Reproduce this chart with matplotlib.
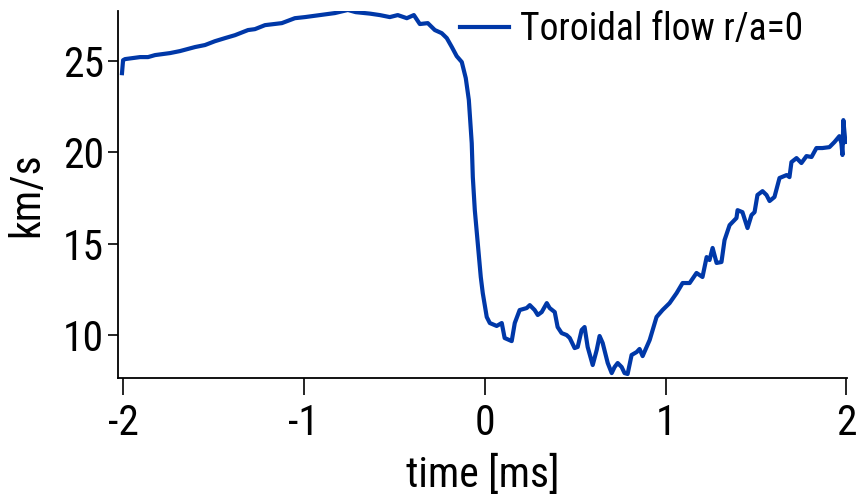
import matplotlib
matplotlib.use("Agg")
import matplotlib.pyplot as plt

# time [ms] and toroidal flow [km/s]
t_ms = [-2.006, -2.000, -1.989, -1.906, -1.862, -1.823, -1.740, -1.685, -1.602, -1.547,
        -1.492, -1.436, -1.381, -1.309, -1.271, -1.215, -1.122, -1.050, -0.994, -0.912,
        -0.829, -0.757, -0.713, -0.635, -0.580, -0.525, -0.481, -0.431, -0.392, -0.359,
        -0.315, -0.276, -0.238, -0.210, -0.182, -0.155, -0.127, -0.105, -0.088, -0.072,
        -0.066, -0.055, -0.039, -0.022, -0.011, 0.011, 0.028, 0.066, 0.094, 0.110,
        0.149, 0.166, 0.193, 0.232, 0.249, 0.276, 0.293, 0.315, 0.343, 0.359,
        0.387, 0.403, 0.425, 0.453, 0.470, 0.497, 0.514, 0.536, 0.552, 0.569,
        0.597, 0.619, 0.635, 0.652, 0.680, 0.702, 0.718, 0.735, 0.757, 0.773,
        0.790, 0.812, 0.840, 0.856, 0.873, 0.912, 0.950, 0.983, 1.022, 1.061,
        1.094, 1.133, 1.171, 1.204, 1.227, 1.243, 1.260, 1.282, 1.309, 1.326,
        1.354, 1.392, 1.398, 1.425, 1.453, 1.475, 1.492, 1.508, 1.536, 1.558,
        1.575, 1.602, 1.630, 1.669, 1.685, 1.696, 1.724, 1.751, 1.779, 1.807,
        1.834, 1.867, 1.906, 1.934, 1.961, 1.972, 1.978, 1.983, 1.994]
v_tor = [24.34, 25.05, 25.11, 25.22, 25.22, 25.33, 25.44, 25.55, 25.77, 25.88,
         26.09, 26.26, 26.42, 26.70, 26.75, 26.97, 27.08, 27.35, 27.41, 27.52,
         27.63, 27.80, 27.68, 27.60, 27.52, 27.41, 27.52, 27.35, 27.52, 27.03,
         27.08, 26.70, 26.53, 26.26, 25.77, 25.27, 24.95, 24.07, 22.87, 20.51,
         18.65, 16.84, 15.04, 13.18, 12.30, 10.99, 10.66, 10.50, 10.66, 9.84,
         9.67, 10.66, 11.37, 11.48, 11.64, 11.37, 11.10, 11.26, 11.75, 11.48,
         11.26, 10.44, 10.11, 10.00, 9.84, 9.29, 9.35, 10.28, 10.44, 9.35,
         8.36, 9.18, 9.95, 9.57, 8.47, 7.92, 8.25, 8.47, 8.25, 7.92,
         7.87, 8.91, 9.07, 9.24, 8.85, 9.73, 10.99, 11.37, 11.75, 12.30,
         12.85, 12.85, 13.40, 13.18, 14.27, 14.11, 14.77, 13.95, 14.00, 15.20,
         16.02, 16.41, 16.84, 16.73, 15.86, 16.57, 16.73, 17.67, 17.88, 17.67,
         17.34, 17.56, 18.60, 18.76, 18.65, 19.47, 19.69, 19.42, 19.80, 19.75,
         20.24, 20.24, 20.29, 20.57, 20.89, 20.51, 19.86, 21.77, 20.57]

xticks = [-2, -1, 0, 1, 2]
yticks = [10, 15, 20, 25]

plt.rcParams['font.family'] = ['Roboto Condensed', 'Liberation Sans Narrow', 'Nimbus Sans Narrow',
                               'Arial Narrow', 'Liberation Sans', 'DejaVu Sans']
plt.rcParams['font.stretch'] = 'condensed'

fig = plt.figure(figsize=(8.57, 5.03), dpi=100)
ax = fig.add_axes([0.1377, 0.2485, 0.8506, 0.7295])

ax.plot(t_ms, v_tor, color='#0038a8', lw=3, label='Toroidal flow r/a=0')

ax.set_xlim(-2.028, 2.003)
ax.set_ylim(7.65, 27.74)
ax.set_xticks(xticks)
ax.set_xticklabels([str(v) for v in xticks])
ax.set_yticks(yticks)

for s in ['top', 'right']:
    ax.spines[s].set_visible(False)
for s in ['left', 'bottom']:
    ax.spines[s].set_linewidth(1.3)

ax.tick_params(axis='x', length=12, width=1.2, labelsize=30, pad=6)
ax.tick_params(axis='y', length=7, width=1.2, labelsize=30, pad=3)

ax.set_xlabel('time [ms]', fontsize=30, labelpad=8)
ax.set_ylabel('km/s', fontsize=30, labelpad=11)

ax.legend(loc='upper right', bbox_to_anchor=(0.937, 0.978), bbox_transform=fig.transFigure,
          frameon=False, fontsize=27, handlelength=1.3, handletextpad=0.3,
          borderpad=0, borderaxespad=0)

fig.savefig('out.png', dpi=100)
